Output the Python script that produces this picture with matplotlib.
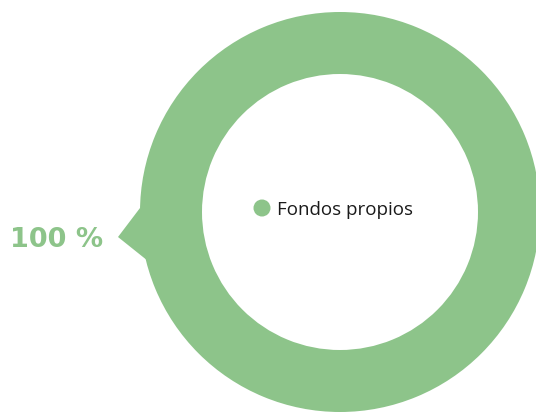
import matplotlib
matplotlib.use("Agg")
import matplotlib.pyplot as plt
from matplotlib.patches import Polygon

categories = ["Fondos propios"]
values = [100]
pct_labels = ["100 %"]
green = "#8dc48a"

fig = plt.figure(figsize=(5.36, 4.13), dpi=100)
ax = fig.add_axes([0, 0, 1, 1])

ax.pie(values, center=(340, 212), radius=200, colors=[green],
       wedgeprops=dict(width=62, edgecolor="none"), startangle=90, frame=True)

# pointer toward the label
ax.add_patch(Polygon([(118, 237), (140, 208), (148, 261)], closed=True,
                     facecolor=green, edgecolor="none"))

ax.text(103, 240, pct_labels[0], ha="right", va="center", color=green,
        fontsize=19.5, fontweight="bold", family="DejaVu Sans")

# legend in the middle
ax.scatter([262], [208], s=150, color=green, edgecolors="none", zorder=5)
ax.text(277, 210, categories[0], ha="left", va="center", color="#1a1a1a",
        fontsize=13.5, family="Open Sans")

ax.set_xlim(0, 536)
ax.set_ylim(413, 0)
ax.set_aspect("equal")
ax.axis("off")

fig.savefig("out.png", dpi=100)
